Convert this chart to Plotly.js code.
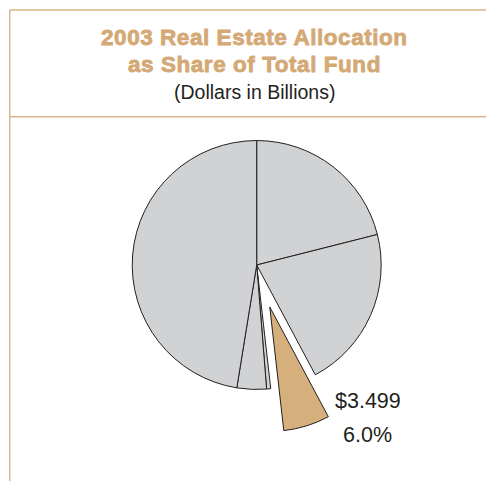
<!DOCTYPE html>
<html>
<head>
<meta charset="utf-8">
<script src="https://cdn.plot.ly/plotly-3.0.1.min.js"></script>
<style>
html,body{margin:0;padding:0;background:#fff;}
#chart{width:486px;height:481px;}
</style>
</head>
<body>
<div id="chart"></div>
<script>
// Data (dollars in billions), clockwise from 12 o'clock
var categories = ["Segment A", "Segment B", "Real Estate", "Segment C", "Segment D", "Segment E"];
var values = [12.28, 12.33, 3.499, 0.31, 2.23, 27.67];
var highlightIndex = 2;
var titleLines = ["2003 Real Estate Allocation", "as Share of Total Fund"];
var subtitle = "(Dollars in Billions)";

var total = values.reduce(function(a, b){ return a + b; }, 0);
var highlightValue = "$" + values[highlightIndex].toFixed(3);
var highlightPct = (values[highlightIndex] / total * 100).toFixed(1) + "%";

var grey = "#d1d2d4", tan = "#d5b07d", ink = "#231f20", boxTan = "#d8b68a", titleTan = "#d4a975";
var colors = categories.map(function(c, i){ return i === highlightIndex ? tan : grey; });
var pulls = categories.map(function(c, i){ return i === highlightIndex ? 0.353 : 0; });

var W = 486, H = 481;
function px(x){ return x / W; }
function py(y){ return 1 - y / H; }

var trace = {
  type: "pie",
  labels: categories,
  values: values,
  sort: false,
  direction: "clockwise",
  rotation: 0,
  pull: pulls,
  marker: { colors: colors, line: { color: ink, width: 1 } },
  textinfo: "none",
  hoverinfo: "none",
  showlegend: false,
  domain: { x: [px(88.3), px(425.1)], y: [py(433.4), py(96.6)] }
};

function heavy(s){
  return "<span style='letter-spacing:0.55px;stroke:" + titleTan + ";stroke-width:0.8px'>" + s + "</span>";
}

var annotations = [
  { text: heavy(titleLines[0]), x: px(254.5), y: py(37.4), font: { family: "Liberation Sans, Arial, sans-serif", size: 22.5, color: titleTan, weight: 700 } },
  { text: heavy(titleLines[1]), x: px(254.5), y: py(64.4), font: { family: "Liberation Sans, Arial, sans-serif", size: 22.5, color: titleTan, weight: 700 } },
  { text: subtitle, x: px(254.5), y: py(91.8), font: { family: "Liberation Sans, Arial, sans-serif", size: 19.5, color: ink } },
  { text: highlightValue, x: px(367.5), y: py(400.6), font: { family: "Liberation Sans, Arial, sans-serif", size: 21.5, color: ink } },
  { text: highlightPct, x: px(367.5), y: py(434.9), font: { family: "Liberation Sans, Arial, sans-serif", size: 21.5, color: ink } }
].map(function(a){
  return Object.assign({ xref: "paper", yref: "paper", xanchor: "center", yanchor: "middle", showarrow: false }, a);
});

var shapes = [
  { type: "line", xref: "paper", yref: "paper", x0: px(9.7), x1: 1, y0: py(10), y1: py(10), line: { color: boxTan, width: 1.4 } },
  { type: "line", xref: "paper", yref: "paper", x0: px(9.7), x1: 1, y0: py(116.8), y1: py(116.8), line: { color: boxTan, width: 1.4 } },
  { type: "line", xref: "paper", yref: "paper", x0: px(9.7), x1: px(9.7), y0: py(10), y1: 0, line: { color: boxTan, width: 1.4 } }
];

var layout = {
  width: W, height: H,
  margin: { l: 0, r: 0, t: 0, b: 0 },
  paper_bgcolor: "#ffffff",
  plot_bgcolor: "#ffffff",
  showlegend: false,
  annotations: annotations,
  shapes: shapes
};

Plotly.newPlot("chart", [trace], layout, { displayModeBar: false, staticPlot: true });
</script>
</body>
</html>
